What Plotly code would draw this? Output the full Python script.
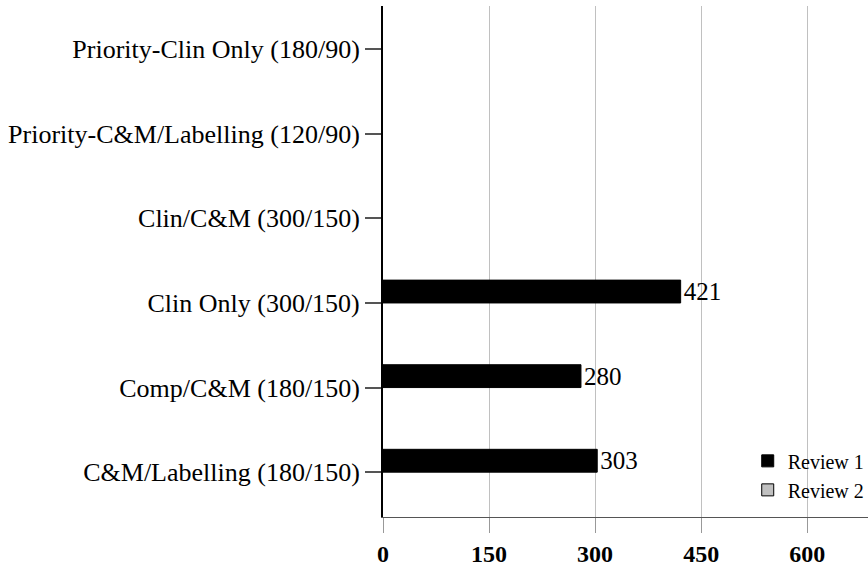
import plotly.graph_objects as go

# categories listed bottom -> top (plotly category axis starts at the bottom)
categories = [
    "C&M/Labelling (180/150)",
    "Comp/C&M (180/150)",
    "Clin Only (300/150)",
    "Clin/C&M (300/150)",
    "Priority-C&M/Labelling (120/90)",
    "Priority-Clin Only (180/90)",
]
review_1 = [303, 280, 421, None, None, None]
review_2 = [None, None, None, None, None, None]
x_ticks = [0, 150, 300, 450, 600]

FONT = "Liberation Serif, Times New Roman, serif"

fig = go.Figure()

# Review 1 bars sit just above each category line
fig.add_trace(
    go.Bar(
        y=categories,
        x=review_1,
        orientation="h",
        name="Review 1",
        marker=dict(color="#000000", line=dict(color="#000000", width=1)),
        width=0.27,
        offset=0,
        text=[str(v) if v is not None else "" for v in review_1],
        textposition="outside",
        constraintext="none",
        textfont=dict(family=FONT, size=25, color="#000000"),
        cliponaxis=False,
        legendgroup="r1",
    )
)

# Review 2 has no values, only shows in the legend
fig.add_trace(
    go.Bar(
        y=categories,
        x=review_2,
        orientation="h",
        name="Review 2",
        marker=dict(color="#c0c0c0", line=dict(color="#000000", width=1)),
        width=0.27,
        offset=-0.27,
        legendgroup="r2",
    )
)

fig.update_layout(
    width=868,
    height=569,
    margin=dict(l=383, r=0, t=6, b=52, autoexpand=False),
    plot_bgcolor="#ffffff",
    paper_bgcolor="#ffffff",
    barmode="overlay",
    showlegend=True,
    legend=dict(
        x=0.752,
        y=0.148,
        xanchor="left",
        yanchor="top",
        font=dict(family=FONT, size=20, color="#000000"),
        bgcolor="rgba(0,0,0,0)",
        tracegroupgap=9,
        traceorder="normal",
    ),
    xaxis=dict(
        range=[0, 686],
        tickvals=x_ticks,
        ticktext=[str(v) for v in x_ticks],
        showgrid=True,
        gridcolor="#c0c0c0",
        gridwidth=1,
        zeroline=False,
        showline=True,
        linecolor="#555555",
        linewidth=1,
        ticks="outside",
        ticklen=15,
        tickcolor="#999999",
        tickfont=dict(family=FONT, size=24, color="#000000", weight="bold"),
    ),
    yaxis=dict(
        type="category",
        categoryorder="array",
        categoryarray=categories,
        range=[-0.53, 5.51],
        showgrid=False,
        zeroline=False,
        showline=True,
        linecolor="#000000",
        linewidth=2,
        ticks="outside",
        ticklen=16,
        tickcolor="#555555",
        tickwidth=1.5,
        tickfont=dict(family=FONT, size=26, color="#000000"),
    ),
)

fig.write_html(
    "out.html",
    config={"displayModeBar": False},
    post_script="document.body.style.margin='0';",
)
